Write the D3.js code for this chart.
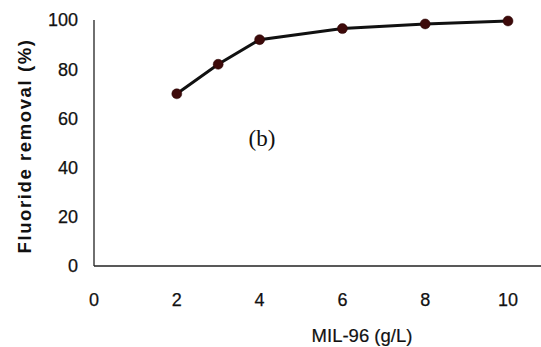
<!DOCTYPE html>
<html><head><meta charset="utf-8">
<script src="https://cdn.jsdelivr.net/npm/d3@7"></script>
<style>body{margin:0;background:#fff}svg{display:block}</style>
</head><body>
<script>
const doses = [2, 3, 4, 6, 8, 10];
const removal = [70, 82, 92, 96.5, 98.4, 99.6];
const xTicks = [0, 2, 4, 6, 8, 10];
const yTicks = [0, 20, 40, 60, 80, 100];

const W = 541, H = 347;
const svg = d3.select("body").append("svg").attr("width", W).attr("height", H);
const x = d3.scaleLinear().domain([0, 10]).range([94, 508]);
const y = d3.scaleLinear().domain([0, 100]).range([266, 20]);
const sans = "Arial, 'Liberation Sans', sans-serif";

// axes lines
svg.append("line").attr("x1", 94).attr("x2", 94).attr("y1", y(100)).attr("y2", y(0))
  .attr("stroke", "#222").attr("stroke-width", 1.3);
svg.append("line").attr("x1", 94).attr("x2", 541).attr("y1", y(0)).attr("y2", y(0))
  .attr("stroke", "#222").attr("stroke-width", 1.3);

// y tick labels
svg.selectAll(".yt").data(yTicks).enter().append("text")
  .attr("x", 78).attr("y", d => y(d)).attr("dy", "0.35em")
  .attr("text-anchor", "end").attr("font-family", sans).attr("font-size", 18)
  .attr("fill", "#111").attr("stroke", "#111").attr("stroke-width", 0.25).text(d => d);

// x tick labels
svg.selectAll(".xt").data(xTicks).enter().append("text")
  .attr("x", d => x(d)).attr("y", 300).attr("dy", "0.35em")
  .attr("text-anchor", "middle").attr("font-family", sans).attr("font-size", 18)
  .attr("fill", "#111").attr("stroke", "#111").attr("stroke-width", 0.25).text(d => d);

// axis titles
svg.append("text").attr("x", 362).attr("y", 336).attr("dy", "0.35em")
  .attr("text-anchor", "middle").attr("font-family", sans).attr("font-size", 18.5)
  .attr("fill", "#111").attr("stroke", "#111").attr("stroke-width", 0.2).text("MIL-96 (g/L)");
svg.append("text").attr("transform", "translate(25,146) rotate(-90)").attr("dy", "0.35em")
  .attr("text-anchor", "middle").attr("font-family", sans).attr("font-size", 18.5)
  .attr("font-weight", "bold").attr("letter-spacing", 1.6)
  .attr("fill", "#111").text("Fluoride removal (%)");

// line
const data = doses.map((d, i) => ({x: d, y: removal[i]}));
svg.append("path").datum(data)
  .attr("d", d3.line().x(d => x(d.x)).y(d => y(d.y)))
  .attr("fill", "none").attr("stroke", "#111").attr("stroke-width", 3);
svg.selectAll(".pt").data(data).enter().append("circle")
  .attr("cx", d => x(d.x)).attr("cy", d => y(d.y)).attr("r", 5)
  .attr("fill", "#3d0a0a").attr("stroke", "#2a0505").attr("stroke-width", 0.5);

// label
svg.append("text").attr("x", 262).attr("y", 146).attr("text-anchor", "middle")
  .attr("font-family", "'Liberation Serif', 'Times New Roman', serif").attr("font-size", 23)
  .attr("fill", "#111").text("(b)");
</script>
</body></html>
